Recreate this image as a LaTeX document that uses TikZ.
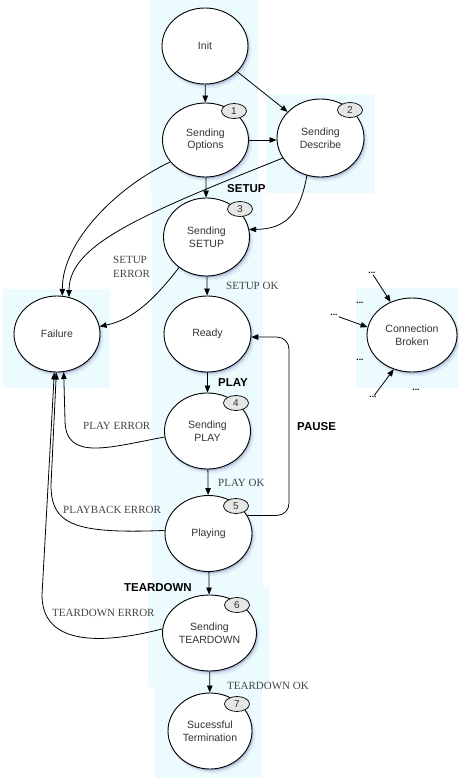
\documentclass[tikz,border=0pt]{standalone}
\usepackage{fontspec}
\setmainfont{Liberation Sans}
\newfontfamily\lserif{Liberation Serif}
\usetikzlibrary{arrows.meta,shapes.geometric,shadows}
\definecolor{panel}{HTML}{EBFBFE}
\definecolor{txt}{HTML}{333333}
\definecolor{lbl}{HTML}{444444}
\definecolor{shc}{HTML}{7A82B8}
\definecolor{badgefill}{HTML}{E6E6E6}
\begin{document}
\begin{tikzpicture}[x=1pt,y=-1pt,
  state/.style={ellipse, draw=black, line width=0.9pt, fill=white, inner sep=0pt,
    align=center, font=\fontsize{10.5}{12.5}\selectfont, text=txt,
    minimum width=86pt, minimum height=76pt,
    drop shadow={shadow xshift=2.2pt, shadow yshift=-3.2pt, shadow scale=1.03, fill=shc, opacity=.12},
    drop shadow={shadow xshift=1.6pt, shadow yshift=-2.4pt, fill=shc, opacity=.22},
    drop shadow={shadow xshift=0.9pt, shadow yshift=-1.4pt, fill=shc, opacity=.3}},
  badgebox/.style={ellipse, draw=black, line width=0.7pt, fill=badgefill,
    minimum width=25pt, minimum height=15pt, inner sep=0pt,
    font=\fontsize{10}{10}\selectfont, text=txt},
  arr/.style={line width=0.8pt, -{Triangle[length=7pt,width=5.5pt]}},
  elabel/.style={font=\lserif\fontsize{11}{14}\selectfont, text=lbl, inner sep=0pt, anchor=west, align=left},
  blabel/.style={font=\bfseries\fontsize{11.5}{13}\selectfont, inner sep=0pt, anchor=west},
  dotsnode/.style={font=\bfseries\fontsize{8.5}{8.5}\selectfont, inner sep=1pt}]

\useasboundingbox (0,0) rectangle (458,781);

% background panels
\fill[panel] (150,0) rectangle (258,193);
\fill[panel] (266,94) rectangle (375,193);
\fill[panel] (152,193) rectangle (263,587);
\fill[panel] (148,587) rectangle (269,687);
\fill[panel] (155,687) rectangle (262,778);
\fill[panel] (3,289) rectangle (110,388);
\fill[panel] (356,288) rectangle (458,388);

% states
\node[state] (init) at (205,46) {Init};
\node[state, minimum height=74pt] (opts) at (205.5,140) {Sending\\Options};
\node[state, minimum width=87pt, minimum height=78pt] (desc) at (320.5,138) {Sending\\Describe};
\node[state, minimum height=78pt] (setup) at (206.5,237) {Sending\\SETUP};
\node[state, minimum width=87pt] (ready) at (207.5,334) {Ready};
\node[state] (failure) at (57,334) {Failure};
\node[state, minimum width=90pt, minimum height=74pt] (cb) at (412,335) {Connection\\Broken};
\node[state] (play) at (207.5,431) {Sending\\PLAY};
\node[state, minimum width=87pt] (playing) at (208.5,533.5) {Playing};
\node[state, minimum width=94pt] (tear) at (209.5,633) {Sending\\TEARDOWN};
\node[state, minimum width=84pt] (term) at (210,731) {Sucessful\\Termination};

% badges
\node[badgebox] (b1) at (234,111) {1};
\node[badgebox] (b2) at (350,110) {2};
\node[badgebox] (b3) at (240,209) {3};
\node[badgebox] (b4) at (236,403) {4};
\node[badgebox] (b5) at (236,506) {5};
\node[badgebox] (b6) at (237,605) {6};
\node[badgebox] (b7) at (237,704) {7};

% main flow
\draw[arr] (init) -- (opts);
\draw[arr] (init) -- (desc);
\draw[arr] (opts.east) -- (opts.east -| desc.west);
\draw[arr] (opts) -- (setup);
\draw[arr] (desc.-110) .. controls (300,215) and (285,229) .. (setup.10);
\draw[arr] (setup) -- (ready);
\draw[arr] (ready) -- (play);
\draw[arr] (play) -- (playing);
\draw[arr] (playing) -- (tear);
\draw[arr] (tear) -- (term);

% failures
\draw[arr] (opts.-148) .. controls (120,185) and (62,240) .. (failure.82);
\draw[arr] (desc.-152) .. controls (140,215) and (69,245) .. (failure.72);
\draw[arr] (setup.-132) .. controls (150,305) and (130,320) .. (failure.10);
\draw[arr] (play.188) .. controls (110,447) and (65,462) .. (65,420) -- (failure.-80);
\draw[arr] (playing.176) .. controls (75,534) and (51,525) .. (51,485) -- (failure.-91);
\draw[arr] (tear.175) .. controls (100,645) and (42,645) .. (42,595) -- (failure.-94);

% pause
\coordinate (pc) at (289,420);
\draw[arr, rounded corners=12pt] (playing.25) -| (pc) |- (ready.-4);

% connection broken
\node[dotsnode] (d1) at (372,273) {...};
\node[dotsnode] (d2) at (334,315) {...};
\node[dotsnode] (d3) at (373,397) {...};
\node[dotsnode] (d4) at (360,303) {...};
\node[dotsnode] (d5) at (360,360) {...};
\node[dotsnode] (d6) at (416,390) {...};
\draw[arr] (d1) -- (cb.123);
\draw[arr] (d2) -- (cb.170);
\draw[arr] (d3) -- (cb.-118);

% labels
\node[blabel] (lsetup) at (227,189) {SETUP};
\node[elabel] (lsetuperr) at (113,267) {SETUP\\ERROR};
\node[elabel] (lsetupok) at (226,286) {SETUP OK};
\node[blabel] (lplay) at (218,383) {PLAY};
\node[elabel] (lplayerr) at (83,426) {PLAY ERROR};
\node[blabel] (lpause) at (297,427) {PAUSE};
\node[elabel] (lplayok) at (218,483) {PLAY OK};
\node[elabel] (lpberr) at (63,510) {PLAYBACK ERROR};
\node[blabel, anchor=east] (ltear) at (192,588) {TEARDOWN};
\node[elabel] (ltearerr) at (52,613) {TEARDOWN ERROR};
\node[elabel] (ltearok) at (227,686) {TEARDOWN OK};
\end{tikzpicture}
\end{document}
